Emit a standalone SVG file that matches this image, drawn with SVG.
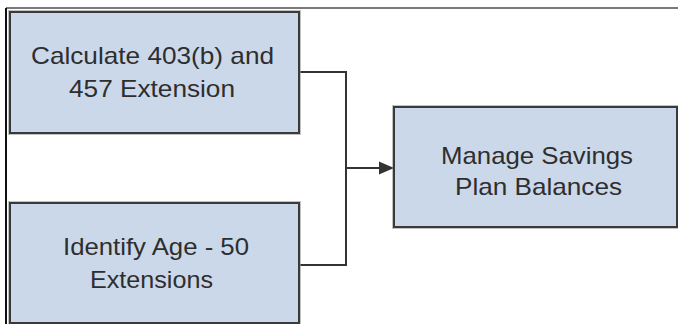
<svg xmlns="http://www.w3.org/2000/svg" width="678" height="324" viewBox="0 0 678 324">
<defs>
<style>
.box{fill:#cbd8ea;stroke:#3a3a3a;stroke-width:2}
.halo{fill:none;stroke:#9a9a9a;stroke-width:4;opacity:0.6}
.t{font-family:"Liberation Sans",Arial,sans-serif;font-size:24px;fill:#2e2e2e}
.c{fill:none;stroke:#333;stroke-width:2}
</style>
<marker id="arr" markerUnits="userSpaceOnUse" markerWidth="16" markerHeight="16" refX="15" refY="8" orient="auto">
<path d="M0,1.5 L15,8 L0,14.5 Z" fill="#333"/>
</marker>
</defs>
<rect width="678" height="324" fill="#fff"/>
<g id="frame">
<line x1="6" y1="8" x2="678" y2="8" stroke="#7a7a7a" stroke-width="2"/>
<line x1="6" y1="8" x2="6" y2="324" stroke="#111" stroke-width="2"/>
</g>
<g id="connectors">
<polyline class="c" points="299,72 346,72 346,265 299,265"/>
<line class="c" x1="346" y1="168" x2="394" y2="168" marker-end="url(#arr)"/>
</g>
<g id="node-calc">
<rect class="halo" x="10" y="12" width="289" height="121"/>
<rect class="box" x="10" y="12" width="289" height="121"/>
<text class="t" x="31" y="64" textLength="243" lengthAdjust="spacingAndGlyphs">Calculate 403(b) and</text>
<text class="t" x="69" y="97" textLength="166" lengthAdjust="spacingAndGlyphs">457 Extension</text>
</g>
<g id="node-identify">
<rect class="halo" x="10" y="203" width="289" height="120"/>
<rect class="box" x="10" y="203" width="289" height="120"/>
<text class="t" x="63" y="255" textLength="186" lengthAdjust="spacingAndGlyphs">Identify Age - 50</text>
<text class="t" x="90" y="288" textLength="123" lengthAdjust="spacingAndGlyphs">Extensions</text>
</g>
<g id="node-manage">
<rect class="halo" x="394" y="107" width="283" height="120"/>
<rect class="box" x="394" y="107" width="283" height="120"/>
<text class="t" x="441" y="164" textLength="192" lengthAdjust="spacingAndGlyphs">Manage Savings</text>
<text class="t" x="455" y="195" textLength="167" lengthAdjust="spacingAndGlyphs">Plan Balances</text>
</g>
</svg>
